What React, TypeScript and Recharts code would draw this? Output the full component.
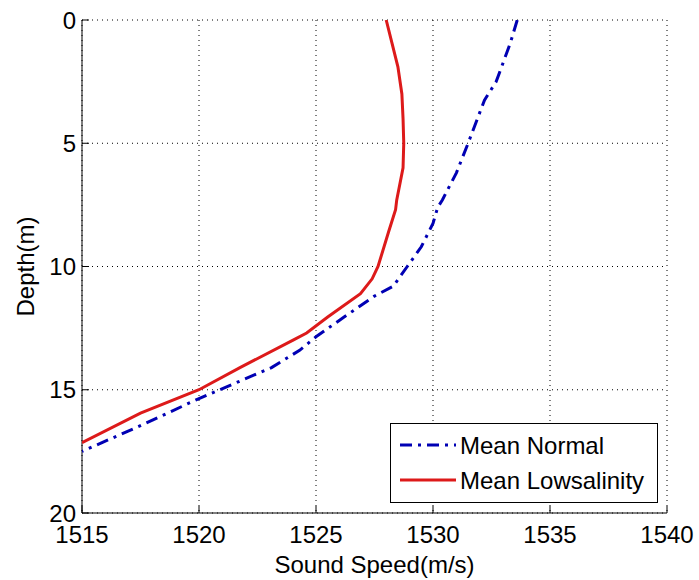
import React from 'react';
import { ScatterChart, Scatter, XAxis, YAxis, CartesianGrid, Legend } from 'recharts';

const xTicks = [1515, 1520, 1525, 1530, 1535, 1540];
const yTicks = [0, 5, 10, 15, 20];

const normalName = 'Mean Normal';
const normalDepth = [0, 0.95, 2.5, 3.25, 5, 6.2, 7.3, 7.6, 8.25, 9.2, 10, 10.8, 11.2, 12.05, 12.85, 13.4, 14.1, 15.4, 16.5, 17.5];
const normalSpeed = [1533.6, 1533.3, 1532.7, 1532.2, 1531.5, 1531.0, 1530.4, 1530.2, 1530.0, 1529.5, 1528.9, 1528.3, 1527.5, 1526.2, 1525.0, 1524.3, 1523.1, 1519.9, 1517.4, 1515.0];

const lowName = 'Mean Lowsalinity';
const lowDepth = [0, 0.95, 1.9, 3, 4, 5, 6, 7.3, 7.7, 8.6, 10, 10.5, 11.1, 12.05, 12.7, 13, 14.1, 15, 15.95, 17.15];
const lowSpeed = [1528.0, 1528.25, 1528.5, 1528.67, 1528.72, 1528.75, 1528.72, 1528.45, 1528.4, 1528.1, 1527.65, 1527.4, 1526.9, 1525.5, 1524.6, 1524.0, 1521.75, 1520.0, 1517.5, 1515.0];

const normalData = normalDepth.map((d, i) => ({ depth: d, speed: normalSpeed[i] }));
const lowData = lowDepth.map((d, i) => ({ depth: d, speed: lowSpeed[i] }));

const BLUE = '#0000b4';
const RED = '#dd1a1a';
const FONT = '"Liberation Sans", Arial, sans-serif';
const BLUE_DASH = '12 6 3 6';

const noShape = () => <g />;

const BottomTick = (props: any) => {
  const { x, y, payload } = props;
  return (
    <g>
      <line x1={x} y1={y} x2={x} y2={y - 7} stroke="#000" strokeWidth={1} />
      <text x={x} y={y + 30} textAnchor="middle" fontSize={24} fontFamily={FONT} fill="#000">
        {payload.value}
      </text>
    </g>
  );
};

const TopTick = (props: any) => {
  const { x, y } = props;
  return <line x1={x} y1={y} x2={x} y2={y + 7} stroke="#000" strokeWidth={1} />;
};

const LeftTick = (props: any) => {
  const { x, y, payload } = props;
  return (
    <g>
      <line x1={x} y1={y} x2={x + 7} y2={y} stroke="#000" strokeWidth={1} />
      <text x={x - 6} y={y + 8.5} textAnchor="end" fontSize={24} fontFamily={FONT} fill="#000">
        {payload.value}
      </text>
    </g>
  );
};

const RightTick = (props: any) => {
  const { x, y } = props;
  return <line x1={x} y1={y} x2={x - 7} y2={y} stroke="#000" strokeWidth={1} />;
};

const legendItems = [
  { name: normalName, color: BLUE, dash: BLUE_DASH },
  { name: lowName, color: RED, dash: undefined },
];

const LegendBox = () => (
  <svg width={268} height={80} style={{ display: 'block' }}>
    <rect x={0.5} y={0.5} width={267} height={79} fill="#fff" stroke="#000" strokeWidth={1} />
    {legendItems.map((it, i) => (
      <g key={it.name}>
        <line x1={10} y1={22 + i * 35} x2={66} y2={22 + i * 35} stroke={it.color} strokeWidth={3} strokeDasharray={it.dash} />
        <text x={70} y={31 + i * 35} fontSize={24} fontFamily={FONT} fill="#000">
          {it.name}
        </text>
      </g>
    ))}
  </svg>
);

const YLabel = (props: any) => {
  const vb = props.viewBox || { x: 0, y: 20, width: 82, height: 493 };
  const cx = vb.x + 25;
  const cy = vb.y + vb.height / 2;
  return (
    <text x={cx} y={cy} transform={`rotate(-90 ${cx} ${cy})`} textAnchor="middle" dominantBaseline="central" fontSize={24} fontFamily={FONT} fill="#000">
      Depth(m)
    </text>
  );
};

export default function App() {
  return (
    <div style={{ position: 'absolute', left: 0, top: 0, width: 699, height: 580, background: '#fff' }}>
      <ScatterChart width={699} height={580} margin={{ top: 20, right: 32, bottom: 0, left: 0 }}>
        <CartesianGrid stroke="#000" strokeDasharray="1 4" strokeWidth={1} />
        <XAxis
          type="number"
          dataKey="speed"
          domain={[1515, 1540]}
          ticks={xTicks}
          allowDataOverflow
          height={67}
          tickSize={0}
          tickMargin={0}
          tickLine={false}
          axisLine={{ stroke: '#000' }}
          tick={<BottomTick />}
          interval={0}
          label={{ value: 'Sound Speed(m/s)', position: 'insideBottom', offset: 7, fill: '#000', fontSize: 24, fontFamily: FONT }}
        />
        <XAxis
          xAxisId="top"
          orientation="top"
          type="number"
          domain={[1515, 1540]}
          ticks={xTicks}
          allowDataOverflow
          height={0}
          tickSize={0}
          tickMargin={0}
          tickLine={false}
          axisLine={{ stroke: '#000' }}
          tick={<TopTick />}
          interval={0}
        />
        <YAxis
          type="number"
          dataKey="depth"
          domain={[0, 20]}
          ticks={yTicks}
          reversed
          allowDataOverflow
          width={82}
          tickSize={0}
          tickMargin={0}
          tickLine={false}
          axisLine={{ stroke: '#000' }}
          tick={<LeftTick />}
          interval={0}
          label={{ content: <YLabel /> }}
        />
        <YAxis
          yAxisId="right"
          orientation="right"
          type="number"
          domain={[0, 20]}
          ticks={yTicks}
          reversed
          allowDataOverflow
          width={0}
          tickSize={0}
          tickMargin={0}
          tickLine={false}
          axisLine={{ stroke: '#000' }}
          tick={<RightTick />}
          interval={0}
        />
        <Scatter
          name={normalName}
          data={normalData}
          fill={BLUE}
          line={{ stroke: BLUE, strokeWidth: 3, strokeDasharray: BLUE_DASH }}
          lineType="joint"
          shape={noShape}
          isAnimationActive={false}
        />
        <Scatter
          name={lowName}
          data={lowData}
          fill={RED}
          line={{ stroke: RED, strokeWidth: 3 }}
          lineType="joint"
          shape={noShape}
          isAnimationActive={false}
        />
        <Legend
          layout="horizontal"
          verticalAlign="middle"
          align="center"
          content={<LegendBox />}
          wrapperStyle={{ position: 'absolute', left: 390, top: 423, width: 268, height: 80 }}
        />
      </ScatterChart>
    </div>
  );
}
